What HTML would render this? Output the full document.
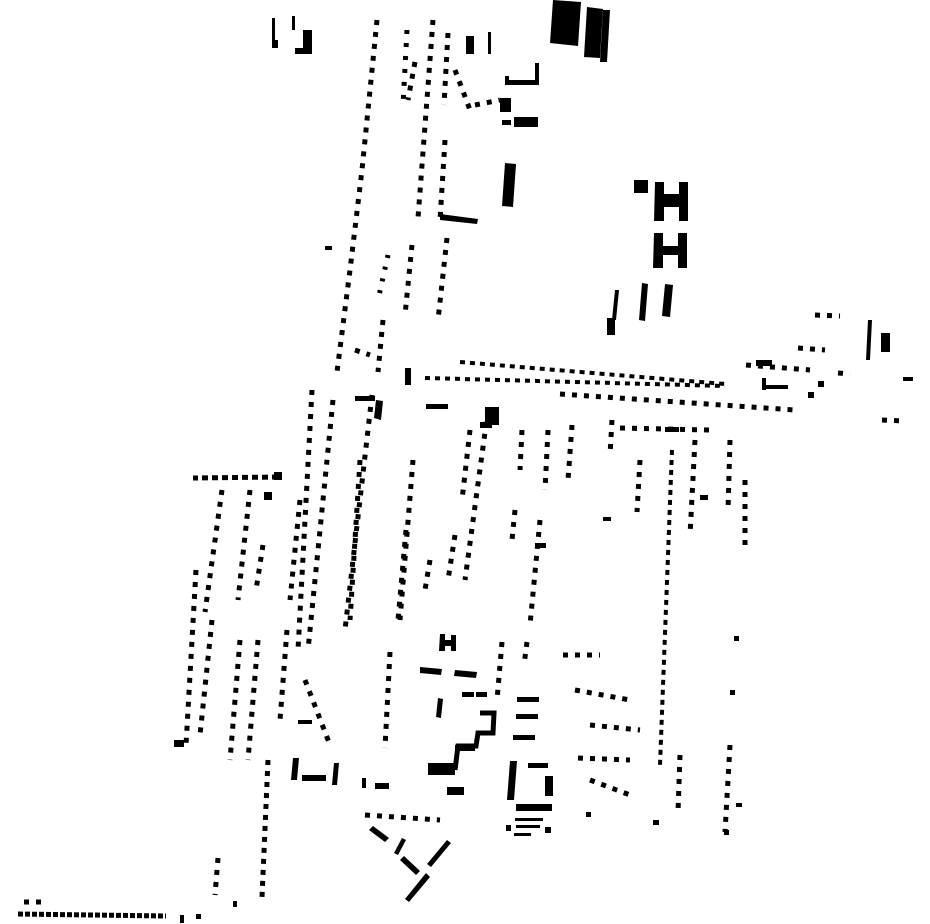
<!DOCTYPE html>
<html><head><meta charset="utf-8"><style>html,body{margin:0;padding:0;background:#fff}svg{display:block}</style></head><body>
<svg width="930" height="924" viewBox="0 0 930 924" xmlns="http://www.w3.org/2000/svg">
<g stroke="#000" stroke-width="5" stroke-dasharray="5 7" fill="none">
<polyline points="377,20 362,170 350,270 337,372"/>
<line x1="433" y1="20" x2="418" y2="218"/>
<line x1="407" y1="30" x2="403" y2="105" stroke-dasharray="4 9"/>
<line x1="448" y1="33" x2="444" y2="105"/>
<line x1="445" y1="140" x2="440" y2="220"/>
<line x1="412" y1="245" x2="405" y2="315"/>
<line x1="447" y1="238" x2="438" y2="320"/>
<line x1="388" y1="255" x2="378" y2="300" stroke-dasharray="3 9"/>
<line x1="383" y1="320" x2="378" y2="372"/>
<line x1="415" y1="62" x2="408" y2="100"/>
<line x1="460" y1="362" x2="725" y2="384" stroke-width="4" stroke-dasharray="5 5"/>
<line x1="425" y1="378" x2="725" y2="386" stroke-width="4" stroke-dasharray="5 5"/>
<line x1="560" y1="394" x2="795" y2="410"/>
<line x1="620" y1="428" x2="710" y2="430"/>
<line x1="312" y1="390" x2="298" y2="650"/>
<line x1="333" y1="400" x2="308" y2="650"/>
<line x1="372" y1="395" x2="345" y2="630"/>
<line x1="360" y1="460" x2="350" y2="620"/>
<line x1="278" y1="477" x2="193" y2="478" stroke-dasharray="6 4"/>
<line x1="222" y1="490" x2="205" y2="612"/>
<line x1="250" y1="490" x2="238" y2="600"/>
<line x1="263" y1="545" x2="256" y2="590"/>
<line x1="300" y1="500" x2="290" y2="600"/>
<line x1="196" y1="570" x2="186" y2="745"/>
<line x1="212" y1="620" x2="200" y2="735"/>
<line x1="240" y1="640" x2="230" y2="760"/>
<line x1="258" y1="640" x2="248" y2="760"/>
<line x1="287" y1="630" x2="280" y2="720"/>
<line x1="413" y1="460" x2="400" y2="620"/>
<line x1="488" y1="410" x2="465" y2="580"/>
<line x1="470" y1="430" x2="462" y2="500"/>
<line x1="540" y1="520" x2="530" y2="625"/>
<line x1="522" y1="430" x2="520" y2="470"/>
<line x1="548" y1="430" x2="545" y2="490"/>
<line x1="572" y1="425" x2="568" y2="480"/>
<line x1="612" y1="420" x2="610" y2="455"/>
<line x1="672" y1="450" x2="660" y2="765" stroke-width="4" stroke-dasharray="5 5"/>
<line x1="640" y1="460" x2="637" y2="512"/>
<line x1="695" y1="440" x2="690" y2="535"/>
<line x1="730" y1="440" x2="728" y2="510"/>
<line x1="745" y1="480" x2="745" y2="552"/>
<line x1="268" y1="760" x2="262" y2="897" stroke-dasharray="5 6"/>
<line x1="218" y1="858" x2="215" y2="895"/>
<line x1="18" y1="914" x2="166" y2="916" stroke-width="5" stroke-dasharray="5 2"/>
<line x1="730" y1="745" x2="725" y2="832"/>
<line x1="680" y1="755" x2="678" y2="812"/>
<line x1="390" y1="652" x2="385" y2="748"/>
<line x1="502" y1="642" x2="497" y2="700"/>
<line x1="527" y1="642" x2="524" y2="665"/>
<line x1="406" y1="530" x2="398" y2="620"/>
<line x1="455" y1="535" x2="448" y2="580"/>
<line x1="430" y1="560" x2="425" y2="590"/>
<line x1="515" y1="510" x2="512" y2="540"/>
<line x1="590" y1="725" x2="640" y2="730"/>
<line x1="578" y1="758" x2="630" y2="760"/>
<line x1="590" y1="780" x2="630" y2="795"/>
<line x1="563" y1="655" x2="600" y2="655"/>
<line x1="305" y1="680" x2="330" y2="745"/>
<line x1="365" y1="815" x2="440" y2="820"/>
<line x1="746" y1="365" x2="810" y2="370"/>
<line x1="815" y1="315" x2="840" y2="316"/>
<line x1="798" y1="348" x2="825" y2="350"/>
<line x1="882" y1="420" x2="905" y2="421"/>
<line x1="838" y1="373" x2="850" y2="374"/>
<line x1="24" y1="902" x2="44" y2="902"/>
<line x1="455" y1="70" x2="470" y2="110"/>
<line x1="475" y1="105" x2="500" y2="100"/>
<line x1="355" y1="350" x2="370" y2="355"/>
<line x1="575" y1="690" x2="630" y2="700"/>
</g>
<g fill="#000">
<polygon points="553,0 581,2 578,46 550,43"/>
<polygon points="587,7 603,9 600,58 584,57"/>
<polygon points="603,10 610,10 607,62 600,62"/>
<rect x="272" y="18" width="3" height="28"/><rect x="272" y="40" width="6" height="8"/>
<rect x="292" y="16" width="3" height="14"/><rect x="303" y="30" width="9" height="24"/><rect x="295" y="48" width="12" height="6"/>
<rect x="466" y="36" width="8" height="18"/><rect x="488" y="32" width="3" height="22"/>
<rect x="505" y="80" width="33" height="5"/><rect x="535" y="63" width="4" height="22"/><rect x="505" y="76" width="4" height="8"/>
<rect x="500" y="98" width="11" height="14"/><rect x="514" y="117" width="24" height="10"/><rect x="502" y="120" width="9" height="5"/>
<polygon points="505,163 516,164 513,207 502,206"/>
<polygon points="440,214 478,219 477,224 440,220"/>
<rect x="634" y="180" width="14" height="13"/>
<path d="M655 182h9v12h15v-12h9v39h-9v-14h-15v14h-10z"/>
<path d="M654 233h9v13h15v-13h9v35h-9v-13h-15v13h-10z"/>
<polygon points="615,290 619,290 616,320 612,320"/>
<rect x="607" y="318" width="8" height="17"/>
<polygon points="642,283 648,284 645,321 639,320"/>
<polygon points="665,284 673,285 670,317 662,316"/>
<polygon points="868,320 872,320 870,360 866,360"/>
<rect x="881" y="333" width="9" height="19"/>
<rect x="903" y="377" width="10" height="4"/>
<rect x="756" y="360" width="16" height="6"/><rect x="766" y="385" width="22" height="4"/>
<rect x="762" y="378" width="4" height="12"/><rect x="818" y="381" width="6" height="6"/><rect x="808" y="392" width="6" height="6"/>
<rect x="355" y="396" width="20" height="5"/><polygon points="376,400 383,401 381,420 374,418"/>
<rect x="426" y="404" width="22" height="5"/><rect x="485" y="407" width="14" height="18"/><rect x="480" y="422" width="12" height="6"/>
<rect x="405" y="368" width="6" height="17"/><rect x="325" y="246" width="7" height="4"/>
<rect x="665" y="427" width="14" height="5"/><rect x="603" y="517" width="8" height="4"/>
<rect x="535" y="543" width="11" height="5"/>
<rect x="700" y="495" width="8" height="5"/>
<path d="M440 634h5v6h6v-5h5v16h-5v-5h-6v5h-6z"/>
<polygon points="420,667 442,669 441,675 420,673"/>
<polygon points="455,670 477,672 476,678 454,676"/>
<rect x="462" y="692" width="12" height="5"/><rect x="476" y="692" width="11" height="5"/>
<polygon points="438,698 443,699 441,718 436,717"/>
<rect x="455" y="745" width="20" height="6"/>
<rect x="428" y="763" width="27" height="12"/><rect x="447" y="787" width="17" height="8"/>
<rect x="517" y="697" width="22" height="5"/><rect x="516" y="714" width="22" height="5"/><rect x="513" y="735" width="22" height="5"/>
<polygon points="510,761 517,761 514,800 507,800"/>
<rect x="528" y="763" width="20" height="5"/><rect x="545" y="776" width="8" height="20"/>
<rect x="516" y="804" width="36" height="7"/>
<rect x="515" y="818" width="28" height="3"/><rect x="516" y="825" width="24" height="3"/><rect x="514" y="833" width="17" height="3"/>
<rect x="506" y="825" width="5" height="6"/><rect x="545" y="827" width="6" height="6"/>
<polygon points="369,830 373,826 389,838 385,842"/>
<polygon points="394,853 402,838 406,840 398,855"/>
<polygon points="400,860 404,856 420,871 416,875"/>
<polygon points="427,864 447,840 451,843 431,867"/>
<polygon points="405,899 426,873 430,877 409,902"/>
<polygon points="293,758 299,758 297,780 291,780"/><rect x="302" y="775" width="24" height="6"/>
<polygon points="334,763 339,763 337,785 332,785"/>
<rect x="375" y="783" width="14" height="6"/><rect x="362" y="778" width="4" height="10"/>
<rect x="174" y="740" width="10" height="7"/><rect x="298" y="720" width="14" height="4"/>
<rect x="734" y="636" width="5" height="5"/><rect x="730" y="690" width="5" height="5"/>
<rect x="653" y="820" width="6" height="5"/><rect x="724" y="830" width="5" height="5"/>
<rect x="736" y="803" width="6" height="4"/><rect x="586" y="812" width="5" height="5"/>
<rect x="180" y="915" width="4" height="8"/><rect x="196" y="914" width="5" height="5"/>
<rect x="233" y="901" width="4" height="6"/>
<rect x="264" y="492" width="8" height="8"/><rect x="274" y="472" width="8" height="8"/>
</g>
<polyline points="480,713 494,713 493,733 478,733 476,746 458,746 455,770" fill="none" stroke="#000" stroke-width="5"/>
</svg>
</body></html>
